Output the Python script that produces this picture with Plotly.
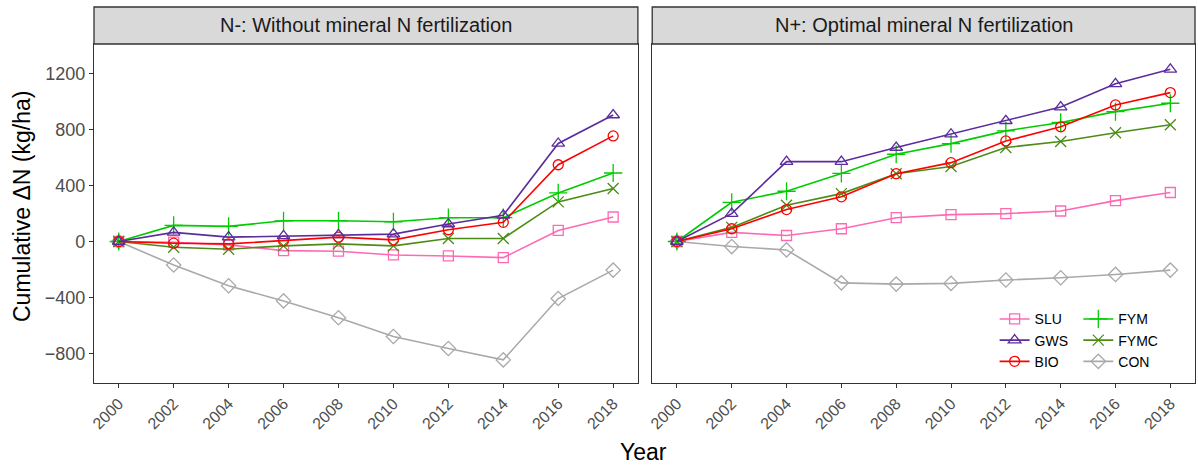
import plotly.graph_objects as go

years = [2000, 2002, 2004, 2006, 2008, 2010, 2012, 2014, 2016, 2018]
tick_labels = [str(y) for y in years]

# N- panel
slu_n0 = [0, -5, -24, -65, -69, -96, -103, -115, 79, 175]
gws_n0 = [0, 65, 31, 40, 48, 53, 125, 187, 700, 903]
bio_n0 = [0, -12, -17, 5, 31, 12, 84, 137, 548, 754]
fym_n0 = [0, 115, 108, 148, 148, 141, 170, 170, 347, 489]
fymc_n0 = [0, -41, -55, -31, -17, -31, 22, 22, 283, 378]
con_n0 = [0, -168, -316, -424, -544, -678, -764, -845, -407, -204]

# N+ panel
slu_n1 = [0, 65, 43, 91, 170, 192, 199, 218, 292, 350]
gws_n1 = [0, 199, 570, 570, 671, 766, 862, 960, 1126, 1229]
bio_n1 = [0, 91, 228, 319, 484, 563, 718, 819, 975, 1063]
fym_n1 = [0, 280, 359, 486, 623, 699, 790, 850, 927, 987]
fymc_n1 = [0, 101, 259, 342, 484, 536, 671, 714, 776, 833]
con_n1 = [0, -36, -60, -295, -304, -299, -275, -259, -235, -204]

series = ["SLU", "GWS", "BIO", "FYM", "FYMC", "CON"]
panel_titles = ["N-: Without mineral N fertilization", "N+: Optimal mineral N fertilization"]
y_ticks = [-800, -400, 0, 400, 800, 1200]

colors = {"SLU": "#FF69B4", "GWS": "#5B2C9C", "BIO": "#FF0000",
          "FYM": "#00CC00", "FYMC": "#4C8C16", "CON": "#A9A9A9"}
symbols = {"SLU": "square-open", "GWS": "triangle-up-open", "BIO": "circle-open",
           "FYM": "cross-thin-open", "FYMC": "x-thin-open", "CON": "diamond-open"}
sizes = {"SLU": 10, "GWS": 11, "BIO": 10, "FYM": 13, "FYMC": 11, "CON": 11}
legend_of = {"SLU": "legend", "GWS": "legend", "BIO": "legend",
             "FYM": "legend2", "FYMC": "legend2", "CON": "legend2"}

data = [
    {"SLU": slu_n0, "GWS": gws_n0, "BIO": bio_n0, "FYM": fym_n0, "FYMC": fymc_n0, "CON": con_n0},
    {"SLU": slu_n1, "GWS": gws_n1, "BIO": bio_n1, "FYM": fym_n1, "FYMC": fymc_n1, "CON": con_n1},
]

FONT = "Liberation Sans, Arial"

fig = go.Figure()
draw_order = ["CON", "SLU", "FYMC", "FYM", "BIO", "GWS"]
for p in range(2):
    xa = "x" if p == 0 else "x2"
    ya = "y" if p == 0 else "y2"
    for s in draw_order:
        fig.add_trace(go.Scatter(
            x=years, y=data[p][s], name=s, mode="lines+markers",
            xaxis=xa, yaxis=ya,
            line=dict(color=colors[s], width=1.6),
            marker=dict(symbol=symbols[s], size=sizes[s], color=colors[s],
                        line=dict(color=colors[s], width=1.3)),
            showlegend=(p == 1), legend=legend_of[s],
            legendrank=series.index(s),
        ))

axis_common = dict(
    range=[1999.1, 2018.9], tickmode="array", tickvals=years, ticktext=tick_labels,
    tickangle=-45, tickfont=dict(family=FONT, size=16, color="#4D4D4D"),
    ticks="outside", ticklen=4, tickcolor="#333333", showgrid=False, zeroline=False,
    showline=True, linecolor="#333333", linewidth=1.3, mirror=True, automargin=False,
)
yaxis_common = dict(
    range=[-1010, 1410], tickmode="array", tickvals=y_ticks,
    showgrid=False, zeroline=False, showline=True, linecolor="#333333",
    linewidth=1.3, mirror=True, automargin=False,
)

left_dom = [0, 0.494]
right_dom = [0.507, 1]

fig.update_layout(
    template="none",
    width=1198, height=465,
    margin=dict(l=94, r=3, t=44, b=82, autoexpand=False),
    paper_bgcolor="white", plot_bgcolor="white",
    font=dict(family=FONT, color="#1A1A1A"),
    xaxis=dict(domain=left_dom, anchor="y", **axis_common),
    xaxis2=dict(domain=right_dom, anchor="y2", **axis_common),
    yaxis=dict(domain=[0, 1], anchor="x", ticks="outside", ticklen=4, tickcolor="#333333",
               tickfont=dict(family=FONT, size=18, color="#4D4D4D"),
               **yaxis_common),
    yaxis2=dict(domain=[0, 1], anchor="x2", showticklabels=False, ticks="", matches="y",
                **yaxis_common),
    legend=dict(x=0.818, y=0.235, xanchor="left", yanchor="top", bgcolor="rgba(0,0,0,0)",
                font=dict(family=FONT, size=14, color="black"),
                tracegroupgap=0, itemwidth=30, traceorder="normal"),
    legend2=dict(x=0.894, y=0.235, xanchor="left", yanchor="top", bgcolor="rgba(0,0,0,0)",
                 font=dict(family=FONT, size=14, color="black"),
                 tracegroupgap=0, itemwidth=30, traceorder="normal"),
)

# Facet strips
strip_h = 37 / 339
for dom, title in zip([left_dom, right_dom], panel_titles):
    fig.add_shape(type="rect", xref="paper", yref="paper",
                  x0=dom[0], x1=dom[1], y0=1, y1=1 + strip_h,
                  fillcolor="#D9D9D9", line=dict(color="#333333", width=1.3))
    fig.add_annotation(xref="paper", yref="paper", x=(dom[0] + dom[1]) / 2,
                       y=1 + strip_h / 2, text=title, showarrow=False,
                       font=dict(family=FONT, size=20, color="#1A1A1A"),
                       xanchor="center", yanchor="middle")

# Axis titles
fig.add_annotation(xref="paper", yref="paper", x=(643 - 94) / 1101, y=(383 - 452) / 339,
                   text="Year", showarrow=False, xanchor="center", yanchor="middle",
                   font=dict(family=FONT, size=23, color="black"))
fig.add_annotation(xref="paper", yref="paper", x=(22 - 94) / 1101, y=(383 - 207) / 339,
                   text="Cumulative ΔN (kg/ha)", showarrow=False, textangle=-90,
                   xanchor="center", yanchor="middle",
                   font=dict(family=FONT, size=23, color="black"))

fig.write_html("out.html", config={"displayModeBar": False},
               post_script="document.body.style.margin='0';document.body.style.overflow='hidden';")
